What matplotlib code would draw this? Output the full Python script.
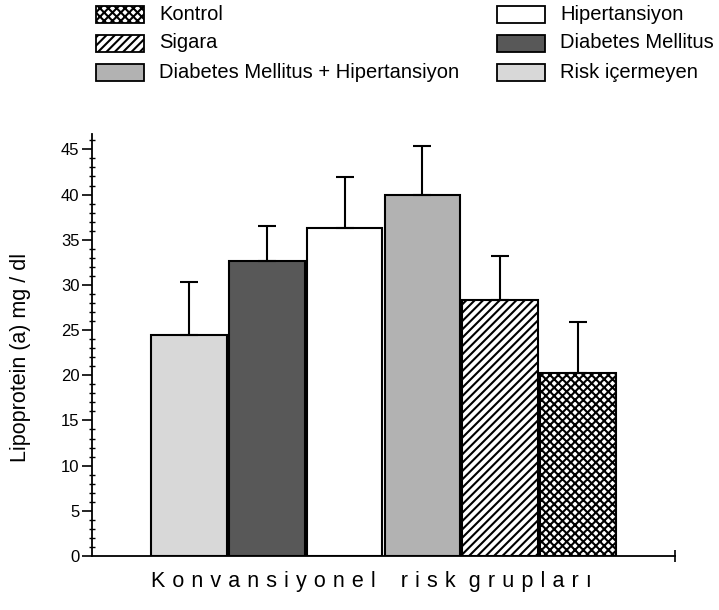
import matplotlib
matplotlib.use("Agg")
import matplotlib.pyplot as plt
from matplotlib.patches import Rectangle
import numpy as np

plt.rcParams['font.family'] = ['Liberation Sans', 'DejaVu Sans']
plt.rcParams['hatch.linewidth'] = 1.5

# Lipoprotein (a) by conventional risk group (mean and upper SD)
groups = ["Risk içermeyen", "Diabetes Mellitus", "Hipertansiyon",
          "Diabetes Mellitus + Hipertansiyon", "Sigara", "Kontrol"]
means = [24.5, 32.7, 36.3, 39.9, 28.3, 20.3]
sd = [5.8, 3.8, 5.6, 5.5, 4.9, 5.6]

yticks = [0, 5, 10, 15, 20, 25, 30, 35, 40, 45]

styles = {
    "Risk içermeyen": dict(facecolor="#d8d8d8", hatch=None),
    "Diabetes Mellitus": dict(facecolor="#585858", hatch=None),
    "Hipertansiyon": dict(facecolor="white", hatch=None),
    "Diabetes Mellitus + Hipertansiyon": dict(facecolor="#b2b2b2", hatch=None),
    "Sigara": dict(facecolor="white", hatch="////"),
    "Kontrol": dict(facecolor="white", hatch="xxxx"),
}

W, H = 719, 610
fig = plt.figure(figsize=(W / 100, H / 100), dpi=100)
ax = fig.add_axes([92 / W, 1 - 556 / H, (675 - 92) / W, (556 - 134) / H])

x = np.arange(len(groups))
for xi, g, m in zip(x, groups, means):
    st = styles[g]
    ax.bar(xi, m, width=0.97, facecolor=st["facecolor"], hatch=st["hatch"],
           edgecolor="black", linewidth=1.5, zorder=2)

ax.errorbar(x, means, yerr=[np.zeros(len(sd)), sd], fmt="none",
            ecolor="black", elinewidth=1.5, capsize=6.5, capthick=1.5, zorder=3)

ax.set_xlim(-1.25, 6.25)
ax.set_ylim(0, 46.7)
ax.spines["top"].set_visible(False)
ax.spines["right"].set_visible(False)
ax.spines["left"].set_linewidth(1.3)
ax.spines["bottom"].set_linewidth(1.3)

ax.set_yticks(yticks)
ax.set_yticks(np.arange(0, 47, 1), minor=True)
ax.tick_params(axis="y", which="major", direction="out", length=7, width=1.2,
               labelsize=12, pad=2)
ax.tick_params(axis="y", which="minor", direction="inout", length=4, width=1)
ax.set_xticks([6.25])
ax.set_xticklabels([""])
ax.tick_params(axis="x", which="major", direction="inout", length=9, width=1.2)

ax.set_ylabel("Lipoprotein (a) mg / dl", fontsize=15.5)
ax.yaxis.set_label_coords(-0.105, 0.47)

# Letter-spaced axis title
gap = "\u2004"
words = ["Konvansiyonel", "risk", "grupları"]
spaced = [gap.join(w) for w in words]
xtitle = (spaced[0] + gap + "\u2002" + gap + spaced[1]
          + gap + " " + spaced[2])
ax.text(0.48, -0.036, xtitle, transform=ax.transAxes, ha="center", va="top",
        fontsize=15.5)

# Legend drawn in pixel coordinates above the plot area
lg = fig.add_axes([0, 0, 1, 1])
lg.set_xlim(0, W)
lg.set_ylim(H, 0)
lg.axis("off")
legend_order = [("Kontrol", 0, 0), ("Sigara", 0, 1),
                ("Diabetes Mellitus + Hipertansiyon", 0, 2),
                ("Hipertansiyon", 1, 0), ("Diabetes Mellitus", 1, 1),
                ("Risk içermeyen", 1, 2)]
col_patch_x = [96, 497]
row_y = [14, 43, 72]
for g, c, r in legend_order:
    st = styles[g]
    lg.add_patch(Rectangle((col_patch_x[c], row_y[r] - 8.5), 48, 17,
                           facecolor=st["facecolor"], hatch=st["hatch"],
                           edgecolor="black", linewidth=1.3))
    lg.text(col_patch_x[c] + 63, row_y[r], g, ha="left", va="center",
            fontsize=14.5)

fig.savefig("out.png", dpi=100)
